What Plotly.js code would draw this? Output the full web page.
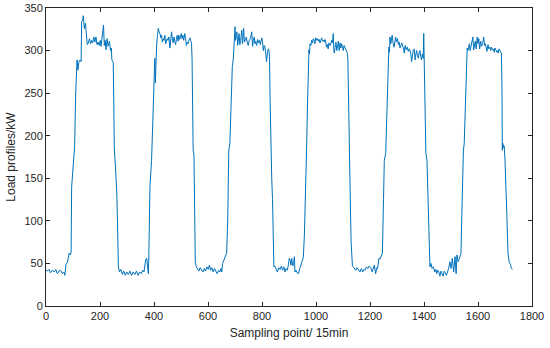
<!DOCTYPE html>
<html>
<head>
<meta charset="utf-8">
<script src="https://cdn.plot.ly/plotly-3.0.1.min.js"></script>
<style>html,body{margin:0;padding:0;background:#fff;}#chart{width:550px;height:348px;}</style>
</head>
<body>
<div id="chart"></div>
<script>
const samplePoints = [0,5,11,17,23,30,36,42,48,54,61,66,70,74,79,83,86,90,93,95,100,106,110,112,115,118,122,126,130,132,136,138,142,146,149,153,157,161,165,169,173,177,181,185,189,193,197,201,204,207,210,213,216,219,222,226,230,235,239,242,244,247,249,251,253,257,262,265,268,272,277,283,288,294,299,305,311,317,323,329,335,341,347,353,359,363,367,369,373,376,379,381,385,391,397,403,405,408,410,413,416,419,422,425,428,431,434,437,440,443,446,449,452,455,459,462,465,468,471,474,477,480,483,486,489,492,495,498,501,504,507,510,514,517,520,523,526,530,533,536,539,541,542,545,548,550,553,557,561,566,571,576,581,586,591,596,601,605,610,614,619,624,629,634,639,644,648,651,654,657,663,669,673,677,681,685,690,694,698,700,702,704,707,710,712,715,718,721,725,728,732,735,739,742,745,749,753,757,762,765,768,771,774,777,780,784,787,790,794,799,802,805,808,811,814,817,820,823,826,828,830,833,836,839,842,844,848,852,857,862,867,872,876,881,885,889,894,898,901,904,907,910,914,917,920,922,926,930,935,940,944,947,950,953,957,962,965,969,972,974,976,978,981,984,987,990,993,996,999,1003,1006,1009,1012,1015,1018,1021,1024,1027,1030,1033,1036,1039,1042,1045,1048,1052,1055,1058,1061,1064,1066,1068,1071,1074,1077,1080,1083,1086,1089,1092,1095,1098,1101,1104,1107,1110,1113,1116,1118,1120,1123,1127,1130,1132,1135,1138,1142,1147,1152,1157,1163,1168,1173,1178,1181,1187,1192,1197,1203,1208,1212,1216,1221,1225,1228,1231,1233,1237,1241,1246,1250,1253,1258,1262,1265,1268,1270,1272,1274,1277,1280,1282,1286,1289,1292,1295,1298,1302,1305,1308,1311,1314,1318,1321,1323,1327,1330,1334,1338,1342,1345,1348,1351,1354,1357,1360,1364,1367,1370,1373,1376,1379,1382,1385,1388,1391,1394,1397,1399,1401,1403,1407,1411,1414,1416,1419,1422,1426,1430,1435,1440,1444,1447,1451,1455,1459,1463,1467,1471,1475,1479,1483,1487,1491,1496,1500,1505,1510,1515,1519,1522,1526,1530,1534,1537,1540,1542,1546,1549,1554,1557,1560,1563,1565,1568,1571,1574,1577,1581,1584,1587,1590,1593,1597,1600,1603,1606,1610,1613,1617,1621,1624,1627,1630,1633,1637,1640,1644,1647,1650,1654,1657,1660,1663,1666,1670,1673,1675,1678,1681,1684,1687,1689,1690,1692,1695,1697,1700,1704,1707,1711,1713,1716,1720,1724,1728];
const loadKW = [42,41,43,39,42,40,43,38,41,42,38,40,36,49,51,58,62,60,63,140,163,187,250,271,289,277,287,289,287,334,336,341,326,332,320,307,309,314,308,312,309,316,310,316,307,310,306,312,305,316,320,330,306,312,301,314,305,311,300,303,289,287,286,240,185,165,135,95,46,40,43,37,41,36,40,37,41,36,40,37,41,36,40,38,42,40,48,54,56,45,38,62,140,171,242,291,262,300,308,318,326,322,320,315,318,310,314,312,318,308,310,314,312,316,303,312,322,314,309,316,312,307,313,318,311,318,313,316,320,314,318,312,320,314,306,310,308,313,315,312,308,290,203,183,178,125,51,46,44,41,45,42,40,44,41,46,43,48,42,45,40,44,41,38,42,40,44,40,50,52,57,62,101,183,191,242,281,291,308,328,312,316,322,306,310,320,307,312,324,308,326,310,313,316,310,306,312,314,322,305,312,316,308,311,306,313,309,312,307,315,310,300,306,304,296,287,297,302,300,290,242,171,150,125,80,46,47,44,40,45,43,47,42,46,40,44,42,49,56,54,48,56,47,50,58,40,42,39,38,44,47,51,54,57,83,133,183,242,290,301,296,308,306,312,309,314,312,308,315,312,314,311,313,309,312,315,311,312,310,313,310,304,307,302,309,306,308,312,309,320,300,297,304,310,300,306,311,300,309,303,308,304,300,306,304,302,299,297,290,242,183,125,75,51,47,46,44,42,45,43,40,44,40,43,42,46,44,47,45,40,43,48,38,45,44,50,56,55,58,62,125,171,179,222,269,290,304,298,316,308,312,318,308,304,310,316,310,314,307,310,303,306,309,305,304,297,306,301,304,299,302,300,296,287,294,300,302,289,296,300,294,291,297,300,293,289,296,291,320,289,242,179,171,135,106,70,46,50,44,46,40,43,38,42,40,35,41,38,35,41,38,36,40,44,52,44,56,40,58,38,60,52,55,58,62,106,149,183,191,242,297,303,300,305,308,300,304,311,316,301,309,311,302,316,308,314,302,311,305,308,316,306,308,304,299,307,302,304,300,304,301,302,298,303,301,298,300,297,302,300,298,297,250,183,191,186,188,171,140,106,62,55,51,49,44,43];
const xTicks = [0,200,400,600,800,1000,1200,1400,1600,1800];
const yTicks = [0,50,100,150,200,250,300,350];

const axisColor = '#262626';
const fontFam = 'Liberation Sans, Arial, Helvetica, sans-serif';

const trace = {
  x: samplePoints,
  y: loadKW,
  type: 'scatter',
  mode: 'lines',
  line: {color: '#0072BD', width: 1},
  hoverinfo: 'skip'
};

const layout = {
  width: 550,
  height: 348,
  margin: {l: 46, r: 18, t: 8, b: 42},
  paper_bgcolor: '#ffffff',
  plot_bgcolor: '#ffffff',
  showlegend: false,
  font: {family: fontFam, size: 11, color: axisColor},
  xaxis: {
    range: [0, 1800],
    tickvals: xTicks,
    ticktext: xTicks.map(String),
    ticks: 'inside',
    ticklen: 4,
    tickcolor: axisColor,
    showline: true,
    linecolor: axisColor,
    linewidth: 1,
    mirror: 'ticks',
    showgrid: false,
    zeroline: false,
    tickfont: {family: fontFam, size: 11, color: axisColor},
    title: {text: 'Sampling point/ 15min', font: {family: fontFam, size: 12, color: axisColor}, standoff: 7}
  },
  yaxis: {
    range: [0, 350],
    tickvals: yTicks,
    ticktext: yTicks.map(String),
    ticks: 'inside',
    ticklen: 4,
    tickcolor: axisColor,
    showline: true,
    linecolor: axisColor,
    linewidth: 1,
    mirror: 'ticks',
    showgrid: false,
    zeroline: false,
    tickfont: {family: fontFam, size: 11, color: axisColor},
    title: {text: 'Load profiles/kW', font: {family: fontFam, size: 12, color: axisColor}, standoff: 6}
  }
};

Plotly.newPlot('chart', [trace], layout, {displayModeBar: false, staticPlot: true});
</script>
</body>
</html>
